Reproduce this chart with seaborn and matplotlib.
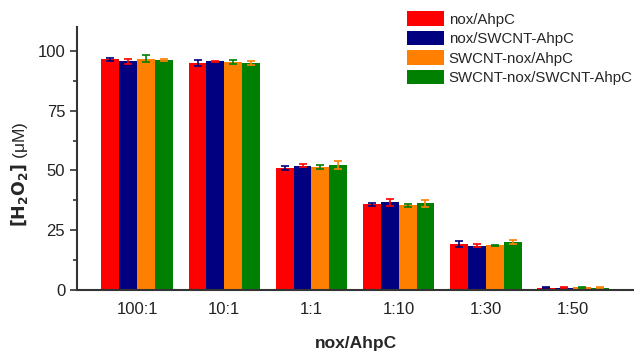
import numpy as np
import pandas as pd
import matplotlib
matplotlib.use("Agg")
import matplotlib.pyplot as plt
import seaborn as sns
from matplotlib.ticker import MultipleLocator

ratios = ["100:1", "10:1", "1:1", "1:10", "1:30", "1:50"]
series = ["nox/AhpC", "nox/SWCNT-AhpC", "SWCNT-nox/AhpC", "SWCNT-nox/SWCNT-AhpC"]
nox_ahpc = [96.5, 95.1, 50.9, 35.8, 19.2, 0.9]
nox_swcnt_ahpc = [95.7, 95.6, 51.9, 36.6, 18.6, 1.0]
swcnt_nox_ahpc = [96.8, 95.3, 51.5, 35.4, 18.7, 1.2]
swcnt_nox_swcnt_ahpc = [96.2, 94.9, 52.4, 36.2, 20.1, 1.0]
err_nox_ahpc = [0.7, 1.3, 0.9, 0.6, 1.2, 0.2]
err_nox_swcnt_ahpc = [1.1, 0.3, 0.6, 1.5, 0.6, 0.2]
err_swcnt_nox_ahpc = [1.5, 0.8, 0.8, 0.5, 0.3, 0.2]
err_swcnt_nox_swcnt_ahpc = [0.4, 0.9, 1.7, 1.4, 0.9, 0.2]

bar_colors = ["#ff0000", "#000080", "#ff8000", "#008000"]
err_colors = ["#000080", "#ff0000", "#008000", "#ff8000"]

vals = [nox_ahpc, nox_swcnt_ahpc, swcnt_nox_ahpc, swcnt_nox_swcnt_ahpc]
errs = [err_nox_ahpc, err_nox_swcnt_ahpc, err_swcnt_nox_ahpc, err_swcnt_nox_swcnt_ahpc]

rows = []
for s, v, e in zip(series, vals, errs):
    for r, vv, ee in zip(ratios, v, e):
        rows.append({"ratio": r, "series": s, "value": vv, "err": ee})
df = pd.DataFrame(rows)

sns.set_style("ticks")
plt.rcParams["font.family"] = ["Liberation Sans", "DejaVu Sans"]

fig = plt.figure(figsize=(6.34, 3.52), dpi=100)
ax = fig.add_axes([77 / 634, 62 / 352, 557 / 634, 263 / 352])

sns.barplot(data=df, x="ratio", y="value", hue="series", order=ratios,
            hue_order=series, palette=bar_colors, errorbar=None,
            width=0.82, saturation=1, linewidth=0, ax=ax)

# error bars drawn in a contrasting colour, one set per series
bar_conts = list(ax.containers)
for i, cont in enumerate(bar_conts):
    xs = [p.get_x() + p.get_width() / 2 for p in cont.patches]
    ax.errorbar(xs, vals[i], yerr=errs[i], fmt="none", ecolor=err_colors[i],
                elinewidth=1.2, capsize=2.8, capthick=1.2, zorder=5)

ax.set_xlim(-0.69, 5.7)
ax.set_ylim(0, 110)
ax.yaxis.set_major_locator(MultipleLocator(25))
ax.yaxis.set_minor_locator(MultipleLocator(12.5))
ax.tick_params(axis="y", which="major", direction="out", length=5, width=1.2,
               labelsize=12, colors="#333333", labelcolor="#222222")
ax.tick_params(axis="y", which="minor", direction="out", length=3, width=1.2,
               colors="#333333")
ax.tick_params(axis="x", length=0, labelsize=12, labelcolor="#222222", pad=9)

for sp in ["top", "right"]:
    ax.spines[sp].set_visible(False)
for sp in ["left", "bottom"]:
    ax.spines[sp].set_linewidth(1.5)
    ax.spines[sp].set_color("#333333")

ax.set_xlabel("nox/AhpC", fontsize=12.5, fontweight="bold", labelpad=13)
ax.set_ylabel(r"$\mathbf{[H_2O_2]}$ (μM)", fontsize=12.5)
ax.yaxis.set_label_coords(-0.085, 0.44)

ax.legend(loc="upper left", bbox_to_anchor=(0.592, 1.06), frameon=False,
          fontsize=10.8, handlelength=2.5, handleheight=1.1, borderpad=0,
          labelspacing=0.28, handletextpad=0.3, borderaxespad=0)

fig.savefig("out.png", dpi=100)
